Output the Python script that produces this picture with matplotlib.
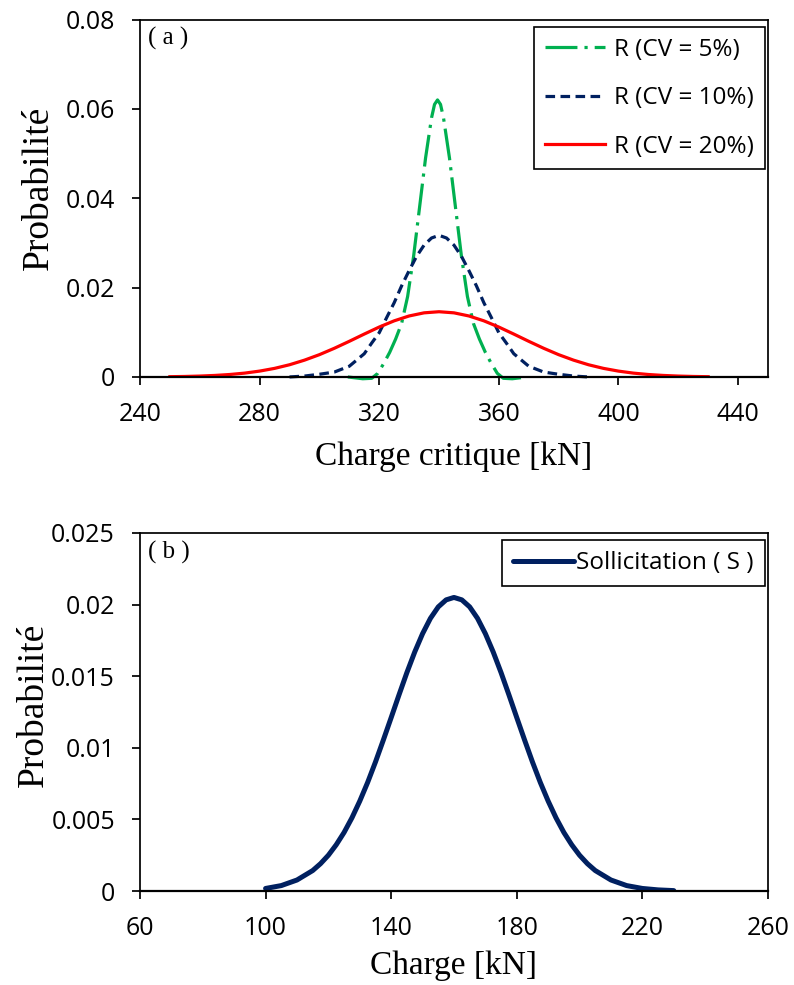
import matplotlib
matplotlib.use("Agg")
import matplotlib.pyplot as plt

# (a) resistance curves
r5_x = [309.5, 314.5, 317.5, 319.5, 321.5, 323.5, 325.5, 327.5, 329.5, 331.5, 333.5,
        335.5, 337.5, 338.5, 339.5, 340.5, 341.5, 343.5, 345.5, 347.5, 349.5, 351.5,
        353.5, 355.5, 357.5, 359.5, 361.5, 364.5, 369.5]
r5_y = [0.0, -0.0004, -0.0003, 0.0008, 0.003, 0.0055, 0.0085, 0.012, 0.018, 0.027, 0.038,
        0.049, 0.058, 0.061, 0.062, 0.061, 0.058, 0.049, 0.038, 0.027, 0.018, 0.012,
        0.0085, 0.0055, 0.003, 0.0008, -0.0003, -0.0004, 0.0]

r10_x = [290, 295, 300, 305, 310, 315, 317.5, 320, 322.5, 325, 327.5, 330, 332.5, 335,
         337.5, 340, 342.5, 345, 347.5, 350, 352.5, 355, 357.5, 360, 362.5, 365, 370,
         375, 380, 385, 390]
r10_y = [0.0, 0.0002, 0.0006, 0.0011, 0.0024, 0.0052, 0.0076, 0.0099, 0.0133, 0.0166,
         0.0204, 0.0238, 0.027, 0.0295, 0.0311, 0.0317, 0.0311, 0.0295, 0.027, 0.0238,
         0.0204, 0.0166, 0.0133, 0.0099, 0.0076, 0.0052, 0.0024, 0.0011, 0.0006, 0.0002,
         0.0]

r20_x = list(range(250, 435, 5))
r20_y = [0.00006, 0.00011, 0.0002, 0.00034, 0.00055, 0.00086, 0.00131, 0.00192, 0.00273,
         0.00376, 0.00499, 0.00642, 0.00798, 0.0096, 0.01117, 0.01256, 0.01365, 0.01435,
         0.0146,
         0.01435, 0.01365, 0.01256, 0.01117, 0.0096, 0.00798, 0.00642, 0.00499, 0.00376,
         0.00273, 0.00192, 0.00131, 0.00086, 0.00055, 0.00034, 0.0002, 0.00011, 0.00006]

# (b) load curve
s_x = [100, 105, 110, 115, 117.5, 120, 122.5, 125, 127.5, 130, 132.5, 135, 137.5, 140,
       142.5, 145, 147.5, 150, 152.5, 155, 157.5, 160, 162.5, 165, 167.5, 170, 172.5,
       175, 177.5, 180, 182.5, 185, 187.5, 190, 192.5, 195, 197.5, 200, 202.5, 205,
       210, 215, 220, 225, 230]
s_y = [0.00018, 0.00038, 0.00077, 0.00143, 0.00191, 0.0025, 0.00323, 0.00409, 0.00511,
       0.00628, 0.00758, 0.00901, 0.01054, 0.01211, 0.0137, 0.01525, 0.01669, 0.01797,
       0.01904, 0.01984, 0.02033, 0.0205, 0.02033, 0.01984, 0.01904, 0.01797, 0.01669,
       0.01525, 0.0137, 0.01211, 0.01054, 0.00901, 0.00758, 0.00628, 0.00511, 0.00409,
       0.00323, 0.0025, 0.00191, 0.00143, 0.00077, 0.00038, 0.00018, 0.00008, 0.00003]

a_xticks = [240, 280, 320, 360, 400, 440]
a_yticks = [0, 0.02, 0.04, 0.06, 0.08]
a_ylabels = ["0", "0.02", "0.04", "0.06", "0.08"]
b_xticks = [60, 100, 140, 180, 220, 260]
b_yticks = [0, 0.005, 0.01, 0.015, 0.02, 0.025]
b_ylabels = ["0", "0.005", "0.01", "0.015", "0.02", "0.025"]

sans = "Open Sans"
serif = "Liberation Serif"

fig = plt.figure(figsize=(7.94, 9.85), dpi=100)
ax1 = fig.add_axes([0.1763, 0.6173, 0.7909, 0.3629])
ax2 = fig.add_axes([0.1763, 0.0954, 0.7909, 0.3635])


def style(ax):
    for s in ax.spines.values():
        s.set_linewidth(1.25)
    ax.spines["bottom"].set_linewidth(1.6)
    ax.tick_params(direction="out", length=6, width=1.25, labelsize=18)
    ax.tick_params(axis="y", pad=12)
    ax.tick_params(axis="x", pad=12)
    for lab in ax.get_xticklabels() + ax.get_yticklabels():
        lab.set_family(sans)


ax1.plot(r5_x, r5_y, color="#00B050", lw=2.3, dashes=(10, 2.2, 1, 2.2),
         label="R (CV = 5%)", clip_on=False)
ax1.plot(r10_x, r10_y, color="#002060", lw=2.3, dashes=(3, 1.7),
         label="R (CV = 10%)", clip_on=False)
ax1.plot(r20_x, r20_y, color="#FF0000", lw=2.3, label="R (CV = 20%)")
ax1.set_xlim(240, 450)
ax1.set_ylim(0, 0.08)
ax1.set_xticks(a_xticks)
ax1.set_yticks(a_yticks)
ax1.set_yticklabels(a_ylabels)
style(ax1)
ax1.set_xlabel("Charge critique [kN]", family=serif, fontsize=24)
ax1.set_ylabel("Probabilité", family=serif, fontsize=27)
ax1.xaxis.set_label_coords(0.5, -0.18)
ax1.yaxis.set_label_coords(-0.134, 0.53)
ax1.text(0.012, 0.978, "( a )", transform=ax1.transAxes, family=serif,
         fontsize=18, va="top", ha="left")
leg1 = ax1.legend(loc="upper right", bbox_to_anchor=(0.995, 0.979), borderaxespad=0,
                  prop={"family": sans, "size": 17.5}, fancybox=False,
                  edgecolor="black", framealpha=1, handlelength=2.5,
                  handletextpad=0.35, labelspacing=1.0, borderpad=0.45)
leg1.get_frame().set_linewidth(1.2)

ax2.plot(s_x, s_y, color="#002060", lw=3.6, solid_capstyle="round",
         label="Sollicitation ( S )")
ax2.set_xlim(60, 260)
ax2.set_ylim(0, 0.025)
ax2.set_xticks(b_xticks)
ax2.set_yticks(b_yticks)
ax2.set_yticklabels(b_ylabels)
style(ax2)
ax2.set_xlabel("Charge [kN]", family=serif, fontsize=24)
ax2.set_ylabel("Probabilité", family=serif, fontsize=27)
ax2.xaxis.set_label_coords(0.5, -0.165)
ax2.yaxis.set_label_coords(-0.142, 0.52)
ax2.text(0.012, 0.978, "( b )", transform=ax2.transAxes, family=serif,
         fontsize=18, va="top", ha="left")
leg2 = ax2.legend(loc="upper right", bbox_to_anchor=(0.995, 0.98), borderaxespad=0,
                  prop={"family": sans, "size": 17.5}, fancybox=False,
                  edgecolor="black", framealpha=1, handlelength=2.5,
                  handletextpad=0.1, borderpad=0.45)
leg2.get_frame().set_linewidth(1.2)

fig.savefig("out.png", dpi=100)
